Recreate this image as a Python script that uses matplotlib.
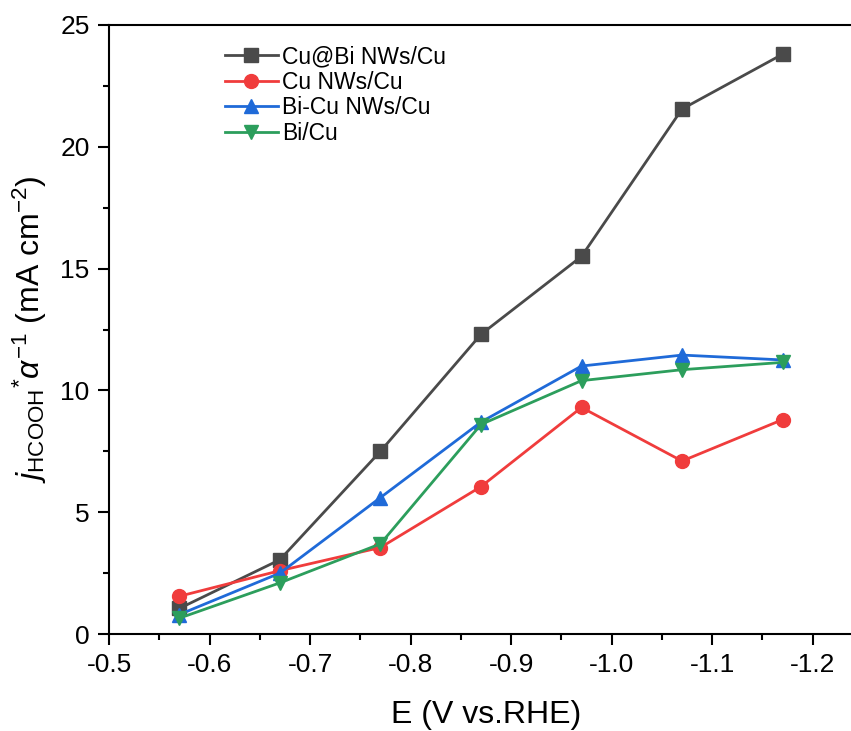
import matplotlib
matplotlib.use("Agg")
import matplotlib.pyplot as plt
from matplotlib.ticker import MultipleLocator

plt.rcParams['font.family'] = ['Liberation Sans', 'DejaVu Sans']
plt.rcParams['mathtext.fontset'] = 'custom'
plt.rcParams['mathtext.rm'] = 'Liberation Sans'
plt.rcParams['mathtext.it'] = 'Liberation Sans:italic'

# potentials (V vs. RHE)
potential = [-0.57, -0.67, -0.77, -0.87, -0.97, -1.07, -1.17]

# j_HCOOH * alpha^-1 (mA cm^-2)
cubi_nws = [1.05, 3.05, 7.5, 12.3, 15.5, 21.55, 23.8]
cu_nws = [1.55, 2.6, 3.55, 6.05, 9.3, 7.1, 8.8]
bicu_nws = [0.8, 2.5, 5.6, 8.7, 11.0, 11.45, 11.25]
bi_cu = [0.65, 2.1, 3.7, 8.6, 10.4, 10.85, 11.15]

labels = ["Cu@Bi NWs/Cu", "Cu NWs/Cu", "Bi-Cu NWs/Cu", "Bi/Cu"]
colors = ["#4a4a4a", "#f03c3c", "#1f6ad8", "#2c9e5c"]
markers = ["s", "o", "^", "v"]

fig = plt.figure(figsize=(8.51, 7.31), dpi=100)
# right edge runs past the figure, like the cropped original
ax = fig.add_axes([109/851, 97/731, 754/851, 609/731])

for ys, lab, c, m in zip([cubi_nws, cu_nws, bicu_nws, bi_cu], labels, colors, markers):
    ax.plot(potential, ys, color=c, marker=m, markersize=10, linewidth=2, label=lab)

ax.set_xlim(-0.5, -1.25)
ax.set_ylim(0, 25)
ax.xaxis.set_major_locator(MultipleLocator(0.1))
ax.xaxis.set_minor_locator(MultipleLocator(0.05))
ax.yaxis.set_major_locator(MultipleLocator(5))
ax.yaxis.set_minor_locator(MultipleLocator(2.5))
ax.xaxis.set_major_formatter(plt.FuncFormatter(lambda v, p: f"{v:.1f}"))
ax.tick_params(which='major', direction='out', length=8, width=1.5, labelsize=19, pad=6)
ax.tick_params(which='minor', direction='out', length=4, width=1.5)
for s in ax.spines.values():
    s.set_linewidth(1.5)

ax.set_xlabel("E (V vs.RHE)", fontsize=23, labelpad=16)
ax.set_ylabel(r"$j_{\mathrm{HCOOH}}{}^{*}\alpha^{-1}$ (mA cm$^{-2}$)", fontsize=23, labelpad=8)

fig.legend(*ax.get_legend_handles_labels(), loc='upper left',
           bbox_to_anchor=(225/851, 1 - 45/731), frameon=False, fontsize=16.5,
           borderpad=0, borderaxespad=0, handlelength=2.3, labelspacing=0.12,
           handletextpad=0.2)

fig.savefig("out.png", dpi=100)
